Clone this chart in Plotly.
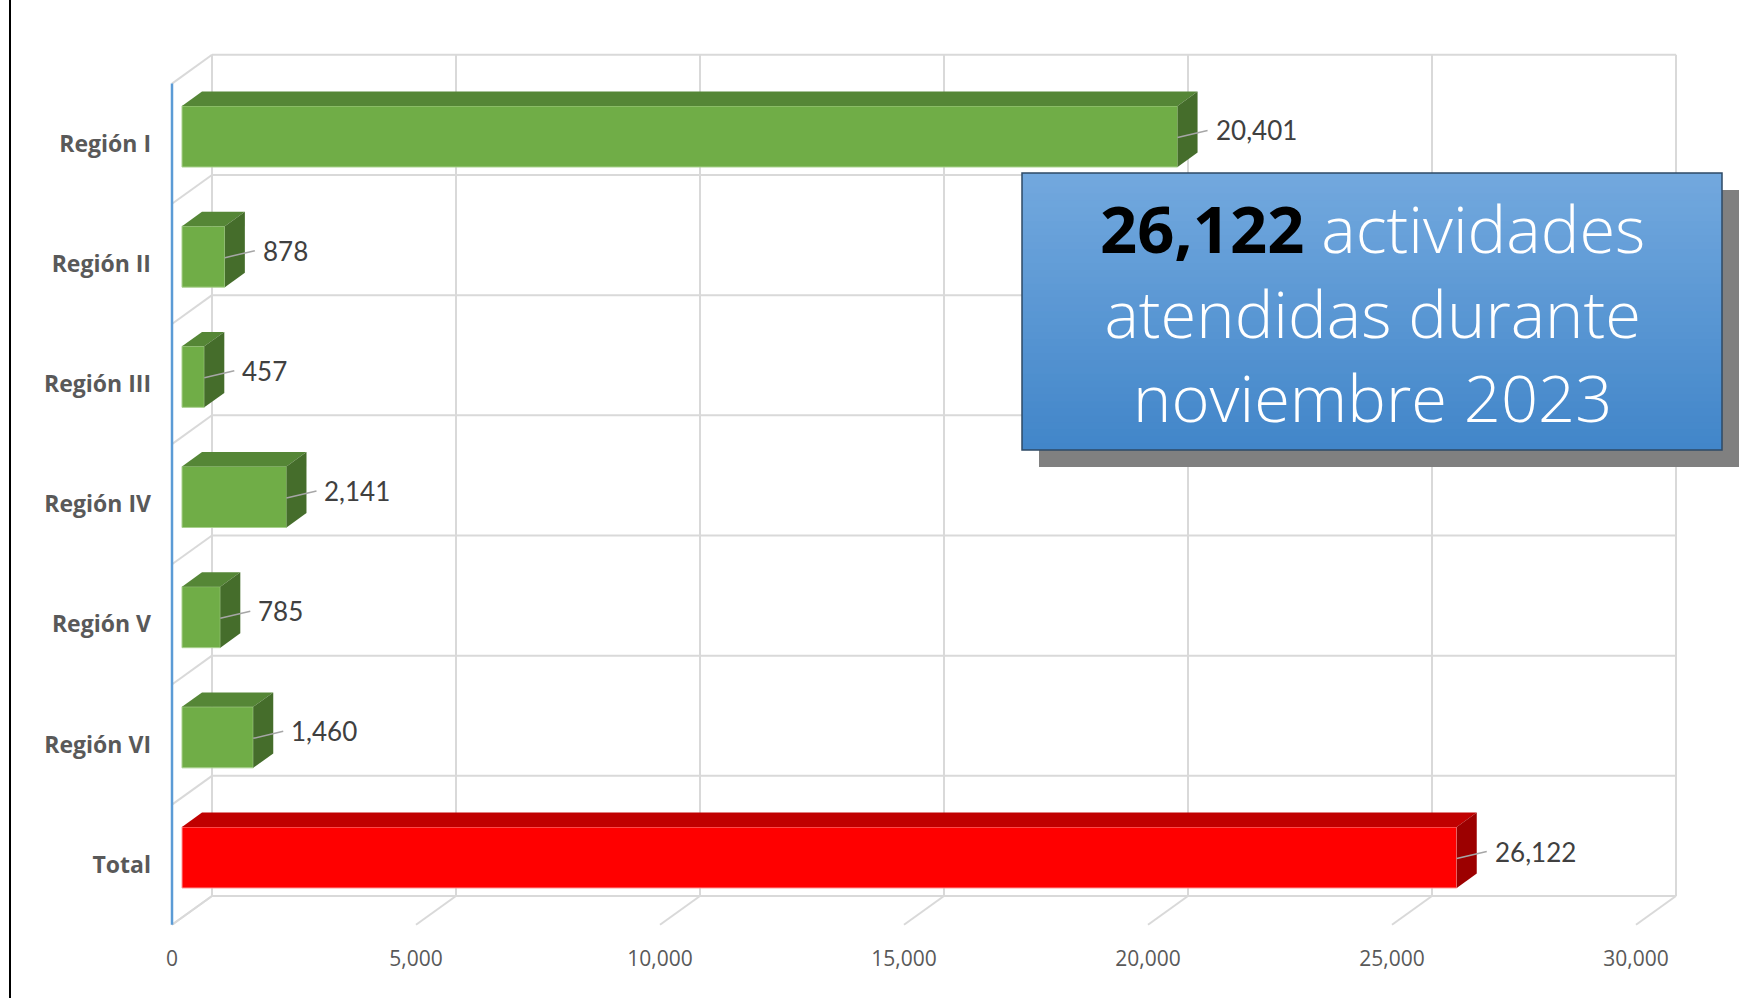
import plotly.graph_objects as go

# ---------------- data ----------------
categories = ["Región I", "Región II", "Región III", "Región IV", "Región V", "Región VI", "Total"]
values = [20401, 878, 457, 2141, 785, 1460, 26122]
value_labels = ["20,401", "878", "457", "2,141", "785", "1,460", "26,122"]
x_tick_values = [0, 5000, 10000, 15000, 20000, 25000, 30000]
x_tick_labels = ["0", "5,000", "10,000", "15,000", "20,000", "25,000", "30,000"]
headline_total = "26,122"
headline_lines = ["actividades", "atendidas durante", "noviembre 2023"]

# ---------------- geometry / style ----------------
W, H = 1739, 998
OFF = 0              # body margin removed via post_script
PX_L, PX_R, PX_T, PX_B = 160, 1705, 40, 932
X0_PX = 182.0        # pixel of value 0 on bar front face
SCALE = 0.0488       # px per unit
Y0_PX = 857.5        # pixel of the last category centre
PPU = 120.17         # px per category
DEPTH_Y = 0.72       # vertical px per px of depth
BAR_W = 0.508
BAR_DEPTH = 20
BACK_DEPTH = 30
FRONT_DEPTH = -10

GREEN = dict(front="#70ad47", top="#558636", side="#456d2b", edge="#a9d18e")
RED = dict(front="#ff0000", top="#c00000", side="#9c0000", edge="#ff9a9a")
GRID = "#d9d9d9"

n = len(categories)
pos = [n - 1 - i for i in range(n)]
x_range = [(PX_L - X0_PX) / SCALE, (PX_R - X0_PX) / SCALE]
y_range = [(Y0_PX - PX_B) / PPU, (Y0_PX - PX_T) / PPU]


def proj(v, p, depth):
    return v + depth / SCALE, p + depth * DEPTH_Y / PPU


def pth(points):
    return "M " + " L ".join(f"{x},{y}" for x, y in points) + " Z"


def px_x(px):
    return (px - OFF) / W


def px_y(py):
    return 1 - (py - OFF) / H


shapes = []
annotations = []

# ---- walls / gridlines ----
xmax = x_tick_values[-1]
for t in x_tick_values:
    (x0, y0), (x1, y1) = proj(t, -0.5, BACK_DEPTH), proj(t, n - 0.5, BACK_DEPTH)
    shapes.append(dict(type="line", xref="x", yref="y", x0=x0, y0=y0, x1=x1, y1=y1,
                       line=dict(color=GRID, width=2), layer="below"))
    (x0, y0), (x1, y1) = proj(t, -0.5, BACK_DEPTH), proj(t, -0.5, FRONT_DEPTH)
    shapes.append(dict(type="line", xref="x", yref="y", x0=x0, y0=y0, x1=x1, y1=y1,
                       line=dict(color=GRID, width=2), layer="below"))
for k in range(n + 1):
    (x0, y0), (x1, y1) = proj(0, k - 0.5, BACK_DEPTH), proj(xmax, k - 0.5, BACK_DEPTH)
    shapes.append(dict(type="line", xref="x", yref="y", x0=x0, y0=y0, x1=x1, y1=y1,
                       line=dict(color=GRID, width=2), layer="below"))
    (x0, y0), (x1, y1) = proj(0, k - 0.5, BACK_DEPTH), proj(0, k - 0.5, FRONT_DEPTH)
    shapes.append(dict(type="line", xref="x", yref="y", x0=x0, y0=y0, x1=x1, y1=y1,
                       line=dict(color=GRID, width=2), layer="below"))
# blue vertical axis on front plane
(x0, y0), (x1, y1) = proj(0, -0.5, FRONT_DEPTH), proj(0, n - 0.5, FRONT_DEPTH)
shapes.append(dict(type="line", xref="x", yref="y", x0=x0, y0=y0, x1=x1, y1=y1,
                   line=dict(color="#5b9bd5", width=2.5), layer="below"))

# ---- 3D faces of bars ----
styles = [RED if c == "Total" else GREEN for c in categories]
for v, p, st in zip(values, pos, styles):
    pt = p + BAR_W / 2
    pb = p - BAR_W / 2
    top = [(0, pt), (v, pt), proj(v, pt, BAR_DEPTH), proj(0, pt, BAR_DEPTH)]
    side = [(v, pb), (v, pt), proj(v, pt, BAR_DEPTH), proj(v, pb, BAR_DEPTH)]
    shapes.append(dict(type="path", xref="x", yref="y", path=pth(top),
                       fillcolor=st["top"], line=dict(width=0), layer="above"))
    shapes.append(dict(type="path", xref="x", yref="y", path=pth(side),
                       fillcolor=st["side"], line=dict(width=0), layer="above"))

# ---- data labels with leader lines ----
for v, p, lab in zip(values, pos, value_labels):
    ly = p + 6 / PPU
    shapes.append(dict(type="line", xref="x", yref="y", x0=v, y0=p - 1 / PPU,
                       x1=v + 30 / SCALE, y1=ly, line=dict(color="#a6a6a6", width=1.5),
                       layer="above"))
    annotations.append(dict(x=v + 36 / SCALE, y=ly, xref="x", yref="y", text=lab,
                            showarrow=False, xanchor="left", yanchor="middle",
                            font=dict(family="Lato", size=26, color="#404040")))

# ---- headline box ----
BX0, BX1, BY0, BY1 = 1022, 1722, 173, 450
SH = 17
shapes.append(dict(type="rect", xref="paper", yref="paper",
                   x0=px_x(BX0 + SH), x1=px_x(W + 20), y0=px_y(BY1 + SH), y1=px_y(BY0 + SH),
                   fillcolor="#808080", line=dict(width=0), layer="above"))
c_top = (114, 168, 222)
c_bot = (66, 134, 201)
N_STRIPS = 40
for i in range(N_STRIPS):
    f = i / (N_STRIPS - 1)
    col = "rgb({},{},{})".format(*[round(a + (b - a) * f) for a, b in zip(c_top, c_bot)])
    ya = BY0 + (BY1 - BY0) * i / N_STRIPS
    yb = BY0 + (BY1 - BY0) * (i + 1) / N_STRIPS + 0.8
    shapes.append(dict(type="rect", xref="paper", yref="paper",
                       x0=px_x(BX0), x1=px_x(BX1), y0=px_y(min(yb, BY1)), y1=px_y(ya),
                       fillcolor=col, line=dict(width=0), layer="above"))
shapes.append(dict(type="rect", xref="paper", yref="paper",
                   x0=px_x(BX0), x1=px_x(BX1), y0=px_y(BY1), y1=px_y(BY0),
                   fillcolor="rgba(0,0,0,0)", line=dict(color="#2e4a66", width=1.5),
                   layer="above"))
headline = (f"<b><span style='color:#000000'>{headline_total}</span></b> {headline_lines[0]}"
            + "<br>" + "<br>".join(headline_lines[1:]))
annotations.append(dict(x=px_x((BX0 + BX1) / 2), y=px_y(313), xref="paper", yref="paper",
                        text=headline, showarrow=False, xanchor="center", yanchor="middle",
                        align="center",
                        font=dict(family="Open Sans", size=65, color="#ffffff", weight=300)))

# ---- left black frame line ----
shapes.append(dict(type="line", xref="paper", yref="paper", x0=px_x(10), x1=px_x(10),
                   y0=0, y1=1, line=dict(color="#000000", width=2), layer="above"))

# ---------------- traces ----------------
fig = go.Figure()
fig.add_trace(go.Bar(
    x=values, y=pos, orientation="h", width=BAR_W,
    marker=dict(color=[s["front"] for s in styles],
                line=dict(color=[s["edge"] for s in styles], width=1)),
    hoverinfo="skip", showlegend=False,
))
# helper trace for the label axes
fig.add_trace(go.Scatter(x=[x_tick_values[0]], y=[pos[-1]], xaxis="x2", yaxis="y2",
                         mode="markers", marker=dict(opacity=0), hoverinfo="skip",
                         showlegend=False))

dom_x = [px_x(PX_L), px_x(PX_R)]
dom_y = [px_y(PX_B), px_y(PX_T)]
fig.update_layout(
    width=W, height=H, autosize=False,
    margin=dict(l=0, r=0, t=0, b=0),
    paper_bgcolor="#ffffff", plot_bgcolor="#ffffff",
    showlegend=False,
    xaxis=dict(domain=dom_x, range=x_range, showgrid=False, zeroline=False,
               showticklabels=False, showline=False, ticks="", fixedrange=True),
    yaxis=dict(domain=dom_y, range=y_range, showgrid=False, zeroline=False,
               showticklabels=False, showline=False, ticks="", fixedrange=True),
    xaxis2=dict(overlaying="x", anchor="y2", side="bottom", domain=dom_x,
                range=[x_range[0] + (-FRONT_DEPTH) / SCALE, x_range[1] + (-FRONT_DEPTH) / SCALE],
                tickmode="array", tickvals=x_tick_values, ticktext=x_tick_labels,
                showgrid=False, zeroline=False, showline=False, ticks="",
                ticklabelstandoff=12,
                tickfont=dict(family="Open Sans", size=21, color="#595959"), fixedrange=True),
    yaxis2=dict(overlaying="y", anchor="x2", side="left", domain=dom_y,
                range=[y_range[0] - FRONT_DEPTH * DEPTH_Y / PPU,
                       y_range[1] - FRONT_DEPTH * DEPTH_Y / PPU],
                tickmode="array", tickvals=pos, ticktext=[f"<b>{c}</b>" for c in categories],
                showgrid=False, zeroline=False, showline=False, ticks="",
                ticklabelstandoff=8,
                tickfont=dict(family="Open Sans", size=23, color="#595959"), fixedrange=True),
    shapes=shapes,
    annotations=annotations,
)

fig.write_html("out.html",
               config={"displayModeBar": False},
               post_script="document.body.style.margin='0px';"
                           "document.body.style.overflow='hidden';")
